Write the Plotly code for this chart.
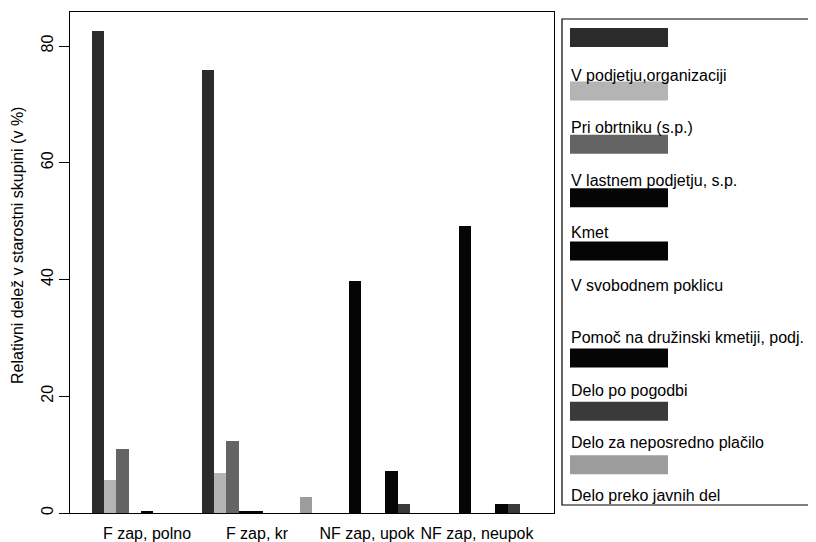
import plotly.graph_objects as go

# ---- data ----
categories = ["F zap, polno", "F zap, kr", "NF zap, upok", "NF zap, neupok"]
series_names = [
    "V podjetju,organizaciji",
    "Pri obrtniku (s.p.)",
    "V lastnem podjetju, s.p.",
    "Kmet",
    "V svobodnem poklicu",
    "Pomoč na družinski kmetiji, podj.",
    "Delo po pogodbi",
    "Delo za neposredno plačilo",
    "Delo preko javnih del",
]
v_podjetju = [82.5, 75.9, 0.0, 0.0]
pri_obrtniku = [5.7, 6.9, 0.0, 0.0]
v_lastnem = [10.9, 12.4, 0.0, 0.0]
kmet = [0.0, 0.4, 39.8, 49.1]
v_svobodnem = [0.3, 0.3, 0.0, 0.0]
pomoc = [0.0, 0.0, 0.0, 0.0]
po_pogodbi = [0.0, 0.0, 7.2, 1.6]
neposredno = [0.0, 0.0, 1.5, 1.6]
javna_dela = [0.0, 2.7, 0.0, 0.0]
series_values = [v_podjetju, pri_obrtniku, v_lastnem, kmet, v_svobodnem,
                 pomoc, po_pogodbi, neposredno, javna_dela]
series_colors = ["#2c2c2c", "#b4b4b4", "#646464", "#050505", "#050505",
                 "#ffffff", "#050505", "#3a3a3a", "#9c9c9c"]
y_ticks = [0, 20, 40, 60, 80]

# ---- geometry (pixels, page coordinates; page body has an 8px margin) ----
OFF = 8
W, H = 816 - OFF, 542 - OFF
L, R, T, B = 70 - OFF, 554 - OFF, 12 - OFF, 513 - OFF
FONT = "Liberation Sans, Arial, sans-serif"


def px(x):
    return (x - OFF - L) / (R - L)


def py(y):
    return (B - (y - OFF)) / (B - T)


fig = go.Figure()
for name, vals, col in zip(series_names, series_values, series_colors):
    fig.add_trace(go.Bar(x=categories, y=vals, name=name,
                         marker=dict(color=col, line=dict(width=0)),
                         showlegend=False))

shapes = []
annotations = []
# legend box (open on the right)
shapes.append(dict(type="path", xref="paper", yref="paper",
                   path=f"M {px(830)},{py(19)} L {px(562)},{py(19)} L {px(562)},{py(505)} L {px(830)},{py(505)}",
                   line=dict(color="black", width=1.2)))
for k, (name, col) in enumerate(zip(series_names, series_colors)):
    top = 28 + 53.4 * k
    shapes.append(dict(type="rect", xref="paper", yref="paper",
                       x0=px(570), x1=px(668), y0=py(top), y1=py(top + 19),
                       fillcolor=col, line=dict(width=0)))
    annotations.append(dict(xref="paper", yref="paper", x=px(569), y=py(75 + 52.5 * k),
                            text=name, showarrow=False, xanchor="left", yanchor="middle",
                            font=dict(family=FONT, size=16, color="black")))

annotations.append(dict(xref="paper", yref="paper", x=px(17), y=py(246),
                        text="Relativni delež v starostni skupini (v %)", textangle=-90,
                        showarrow=False, xanchor="center", yanchor="middle",
                        font=dict(family=FONT, size=16, color="black")))

fig.update_layout(
    width=W, height=H,
    margin=dict(l=L, r=W - R, t=T, b=H - B, pad=0, autoexpand=False),
    paper_bgcolor="white", plot_bgcolor="white",
    barmode="group", bargap=0, bargroupgap=0,
    shapes=shapes, annotations=annotations,
    font=dict(family=FONT, size=16, color="black"),
    xaxis=dict(type="category", range=[-0.7, 3.7], showgrid=False, zeroline=False,
               automargin=False, ticklabelstandoff=6,
               showline=True, mirror=True, linecolor="black", linewidth=1.2,
               ticks="", tickfont=dict(family=FONT, size=16)),
    yaxis=dict(range=[0, (B - T) / ((B - (46 - OFF)) / 80)], tickvals=y_ticks, showgrid=False,
               automargin=False,
               zeroline=False, showline=True, mirror=True, linecolor="black", linewidth=1.2,
               ticks="outside", ticklen=10, tickcolor="black", tickangle=-90,
               tickfont=dict(family=FONT, size=16)),
)

fig.write_html("out.html")
